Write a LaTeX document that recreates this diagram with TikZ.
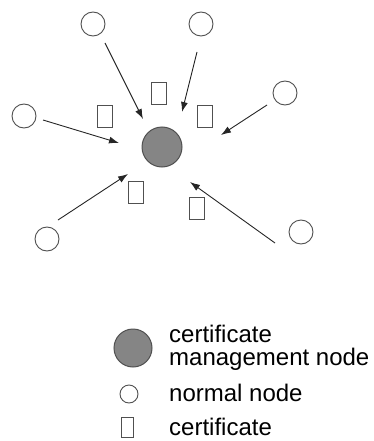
\documentclass[tikz,border=0pt]{standalone}
\usepackage{fontspec}
\setmainfont{Liberation Sans}
\usetikzlibrary{shapes.misc,arrows.meta}
\definecolor{cmgray}{HTML}{858585}
\definecolor{edgegray}{HTML}{505050}
\tikzset{
  normal/.style={circle, draw=edgegray, line width=0.9pt, fill=white, minimum size=24pt, inner sep=0pt},
  manager/.style={circle, draw=edgegray, line width=1pt, fill=cmgray, minimum size=40pt, inner sep=0pt},
  cert/.style={chamfered rectangle, chamfered rectangle corners=south east,
    chamfered rectangle xsep=3pt, chamfered rectangle ysep=3pt,
    draw=edgegray, line width=1.2pt, minimum width=15pt, minimum height=22pt, inner sep=0pt},
  flow/.style={draw=black!85, line width=0.9pt, -{Latex[length=10pt,width=7pt]}},
  legendtext/.style={anchor=base west, inner sep=0pt, font=\fontsize{24}{23}\selectfont}
}
\begin{document}
\begin{tikzpicture}[x=1pt,y=-1pt]
\useasboundingbox (0,0) rectangle (374,441);

% certificate management node and the six normal nodes around it
\node[manager] (cm) at (162,147) {};
\node[normal] (n1) at (93,24) {};
\node[normal] (n2) at (201,24) {};
\node[normal] (n3) at (285,93) {};
\node[normal] (n4) at (24,116) {};
\node[normal] (n5) at (47,239) {};
\node[normal] (n6) at (301,232) {};

% certificates on their way to the manager
\node[cert] (c1) at (159,93.5) {};
\node[cert] (c2) at (105,116.5) {};
\node[cert] (c3) at (205,116.5) {};
\node[cert] (c4) at (136,192.5) {};
\node[cert] (c5) at (197,208.5) {};

% arrow ends, kept clear of the circles
\coordinate (s1) at (105,43);  \coordinate (e1) at (143,119);
\coordinate (s2) at (197,52);  \coordinate (e2) at (182,112);
\coordinate (s3) at (267,105); \coordinate (e3) at (221,135);
\coordinate (s4) at (43,120);  \coordinate (e4) at (119,143);
\coordinate (s5) at (58,220);  \coordinate (e5) at (128,174);
\coordinate (s6) at (275,243); \coordinate (e6) at (190,182);

\draw[flow] (s1) -- (e1);
\draw[flow] (s2) -- (e2);
\draw[flow] (s3) -- (e3);
\draw[flow] (s4) -- (e4);
\draw[flow] (s5) -- (e5);
\draw[flow] (s6) -- (e6);

% legend
\node[manager, minimum size=38pt] (lgm) at (133,348) {};
\node[normal, minimum size=18pt] (lgn) at (129,394) {};
\node[cert, minimum width=12pt, minimum height=20pt, line width=1pt,
  chamfered rectangle xsep=1.5pt, chamfered rectangle ysep=1.5pt] (lgc) at (127,427) {};
\node[legendtext] (t1) at (169,342) {certificate};
\node[legendtext] (t2) at (169,365) {management node};
\node[legendtext] (t3) at (169,401) {normal node};
\node[legendtext] (t4) at (169,435) {certificate};
\end{tikzpicture}
\end{document}
